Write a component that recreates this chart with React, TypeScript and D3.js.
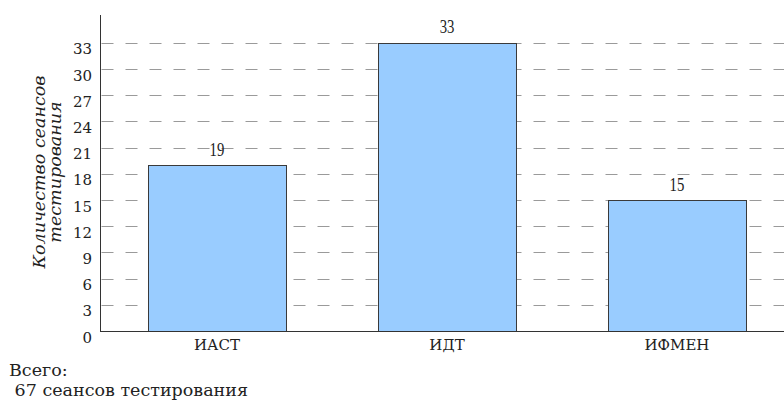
import React from "react";
import * as d3 from "d3";

const categories = ["ИАСТ", "ИДТ", "ИФМЕН"];
const values = [19, 33, 15];
const yTicks = [0, 3, 6, 9, 12, 15, 18, 21, 24, 27, 30, 33];
const yTitleLines = ["Количество сеансов", "тестирования"];
const totalLines = ["Всего:", " 67 сеансов тестирования"];

const W = 784;
const H = 400;

export default function App() {
  const x = d3.scaleBand<string>().domain(categories).range([102, 792]).paddingInner(0.4).paddingOuter(0.2);
  const y = d3.scaleLinear().domain([0, 36.2]).range([331, 15]);
  const x0 = 100;
  const font = "'DejaVu Serif', serif";

  return (
    <svg width={W} height={H} style={{ position: "absolute", left: 0, top: 0, background: "#fff" }} fontFamily={font}>
      <rect x={0} y={0} width={W} height={H} fill="#fff" />
      {/* grid */}
      {yTicks.filter((t) => t > 0).map((t) => (
        <line key={"g" + t} x1={x0 + 1.5} x2={W} y1={Math.round(y(t)) + 0.5} y2={Math.round(y(t)) + 0.5}
          stroke="#9a9a9a" strokeWidth={1} strokeDasharray="12,12" />
      ))}
      {/* bars */}
      {categories.map((c, i) => (
        <rect key={c} x={(x(c) as number) + 0.5} y={Math.round(y(values[i])) + 0.5}
          width={x.bandwidth()} height={Math.round(y(0)) - Math.round(y(values[i]))}
          fill="#99ccff" stroke="#3a3a3a" strokeWidth={1} />
      ))}
      {/* value labels */}
      {categories.map((c, i) => {
        const cx = (x(c) as number) + x.bandwidth() / 2;
        return (
          <text key={"v" + c} x={cx} y={y(values[i]) - 9.5}
            textAnchor="middle" fontFamily="'Liberation Serif', serif" fontSize={18} fill="#222"
            transform={`translate(${cx},0) scale(0.82,1) translate(${-cx},0)`}>
            {values[i]}
          </text>
        );
      })}
      {/* axes */}
      <line x1={x0 + 0.5} x2={x0 + 0.5} y1={15} y2={Math.round(y(0)) + 1} stroke="#333" strokeWidth={1} />
      <line x1={x0} x2={W} y1={Math.round(y(0)) + 0.5} y2={Math.round(y(0)) + 0.5} stroke="#333" strokeWidth={1} />
      {/* y tick labels */}
      {yTicks.map((t) => (
        <text key={"t" + t} x={92} y={y(t) + 11.5} textAnchor="end" fontSize={15} fill="#222">
          {t}
        </text>
      ))}
      {/* category labels */}
      {categories.map((c) => (
        <text key={"c" + c} x={(x(c) as number) + x.bandwidth() / 2} y={350} textAnchor="middle" fontSize={15} fill="#222">
          {c}
        </text>
      ))}
      {/* y title */}
      <text transform={`translate(45,172) rotate(-90)`} textAnchor="middle" fontSize={17.5} fontStyle="italic" fill="#222">
        <tspan x={0} dy={0}>{yTitleLines[0]}</tspan>
        <tspan x={0} dy={16}>{yTitleLines[1]}</tspan>
      </text>
      {/* totals */}
      <text x={9} y={376} fontSize={17.5} fill="#222">{totalLines[0]}</text>
      <text x={9} y={396} fontSize={17.5} fill="#222" style={{ whiteSpace: "pre" }}>{totalLines[1]}</text>
    </svg>
  );
}
